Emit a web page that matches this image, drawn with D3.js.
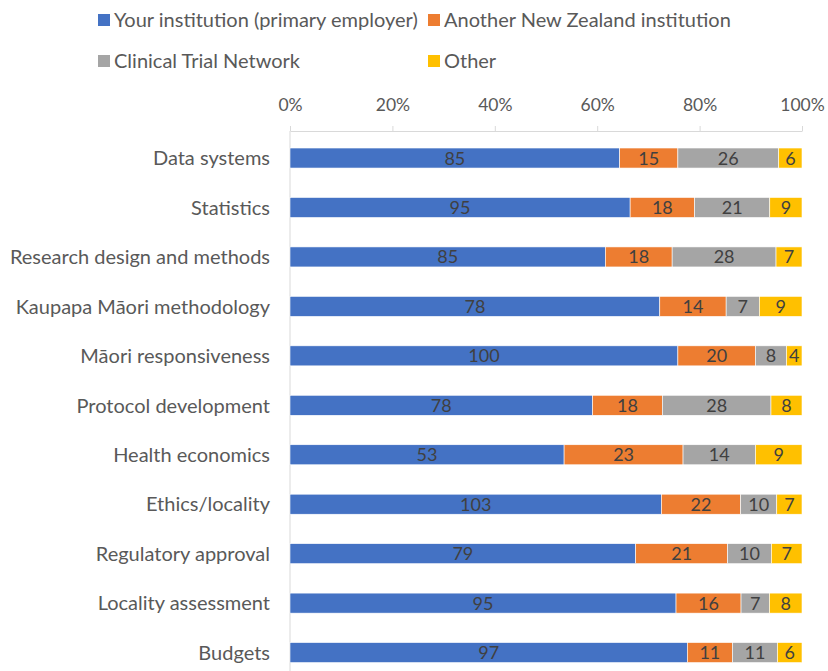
<!DOCTYPE html>
<html>
<head>
<meta charset="utf-8">
<script src="https://cdn.jsdelivr.net/npm/d3@7"></script>
<style>
  body { margin: 0; background: #fff; }
  text { font-family: Lato, "Open Sans", sans-serif; }
</style>
</head>
<body>
<div class="chart"></div>
<script>
// Chart data
const categories = ["Data systems", "Statistics", "Research design and methods",
  "Kaupapa Māori methodology", "Māori responsiveness", "Protocol development",
  "Health economics", "Ethics/locality", "Regulatory approval",
  "Locality assessment", "Budgets"];
const seriesNames = ["Your institution (primary employer)", "Another New Zealand institution",
  "Clinical Trial Network", "Other"];
const yourInstitution = [85, 95, 85, 78, 100, 78, 53, 103, 79, 95, 97];
const anotherNZ = [15, 18, 18, 14, 20, 18, 23, 22, 21, 16, 11];
const clinicalNetwork = [26, 21, 28, 7, 8, 28, 14, 10, 10, 7, 11];
const other = [6, 9, 7, 9, 4, 8, 9, 7, 7, 8, 6];
const tickValues = [0, 0.2, 0.4, 0.6, 0.8, 1];
const colors = ["#4472C4", "#ED7D31", "#A5A5A5", "#FFC000"];

const width = 828, height = 671;
const svg = d3.select(".chart").append("svg")
    .attr("width", width)
    .attr("height", height);

// build rows of shares for the stack
const keys = ["a", "b", "c", "d"];
const rows = categories.map((c, i) => {
    const vals = [yourInstitution[i], anotherNZ[i], clinicalNetwork[i], other[i]];
    const total = d3.sum(vals);
    const r = { cat: c, raw: vals };
    keys.forEach((k, j) => r[k] = vals[j] / total);
    return r;
});
const stacked = d3.stack().keys(keys)(rows);

const x = d3.scaleLinear().domain([0, 1]).range([290, 802]);
const y = d3.scaleBand()
    .domain(categories)
    .range([133.3, 677.3])
    .paddingInner(0.595)
    .paddingOuter(0.2975);

// top axis with percentages
const axisY = 131;
const axis = svg.append("g")
    .attr("transform", `translate(0,${axisY})`)
    .call(d3.axisTop(x).tickValues(tickValues).tickFormat(d3.format(".0%"))
        .tickSize(5).tickPadding(15).tickSizeOuter(0));
axis.select(".domain").attr("stroke", "#d9d9d9");
axis.selectAll(".tick line").attr("stroke", "#d9d9d9");
axis.selectAll(".tick text")
    .attr("fill", "#595959")
    .style("font-size", "17.5px");

// category axis line
svg.append("line")
    .attr("x1", x(0)).attr("x2", x(0))
    .attr("y1", axisY).attr("y2", height)
    .attr("stroke", "#d9d9d9");

// bars
const layers = svg.selectAll(".layer")
    .data(stacked)
    .enter().append("g")
    .attr("class", "layer")
    .attr("fill", (d, i) => colors[i]);

layers.selectAll("rect")
    .data(d => d)
    .enter().append("rect")
    .attr("x", d => x(d[0]))
    .attr("y", d => y(d.data.cat))
    .attr("width", d => x(d[1]) - x(d[0]))
    .attr("height", y.bandwidth())
    .attr("stroke", "#fff")
    .attr("stroke-width", 0.6);

// data labels
stacked.forEach((layer, i) => {
    svg.append("g").selectAll("text")
        .data(layer)
        .enter().append("text")
        .attr("x", d => (x(d[0]) + x(d[1])) / 2)
        .attr("y", d => y(d.data.cat) + y.bandwidth() / 2)
        .attr("dy", "0.36em")
        .attr("text-anchor", "middle")
        .attr("fill", "#404040")
        .style("font-size", "18px")
        .text(d => d.data.raw[i]);
});

// category labels
svg.append("g").selectAll("text")
    .data(categories)
    .enter().append("text")
    .attr("x", 270)
    .attr("y", d => y(d) + y.bandwidth() / 2)
    .attr("dy", "0.36em")
    .attr("text-anchor", "end")
    .attr("fill", "#595959")
    .style("font-size", "20px")
    .text(d => d);

// legend
const legendPos = [[98, 20], [428, 20], [98, 61], [428, 61]];
const legend = svg.append("g").selectAll("g")
    .data(seriesNames)
    .enter().append("g")
    .attr("transform", (d, i) => `translate(${legendPos[i][0]},${legendPos[i][1]})`);
legend.append("rect")
    .attr("x", 0).attr("y", -6)
    .attr("width", 12).attr("height", 12)
    .attr("fill", (d, i) => colors[i]);
legend.append("text")
    .attr("x", 16)
    .attr("dy", "0.36em")
    .attr("fill", "#595959")
    .style("font-size", "20px")
    .text(d => d);
</script>
</body>
</html>
